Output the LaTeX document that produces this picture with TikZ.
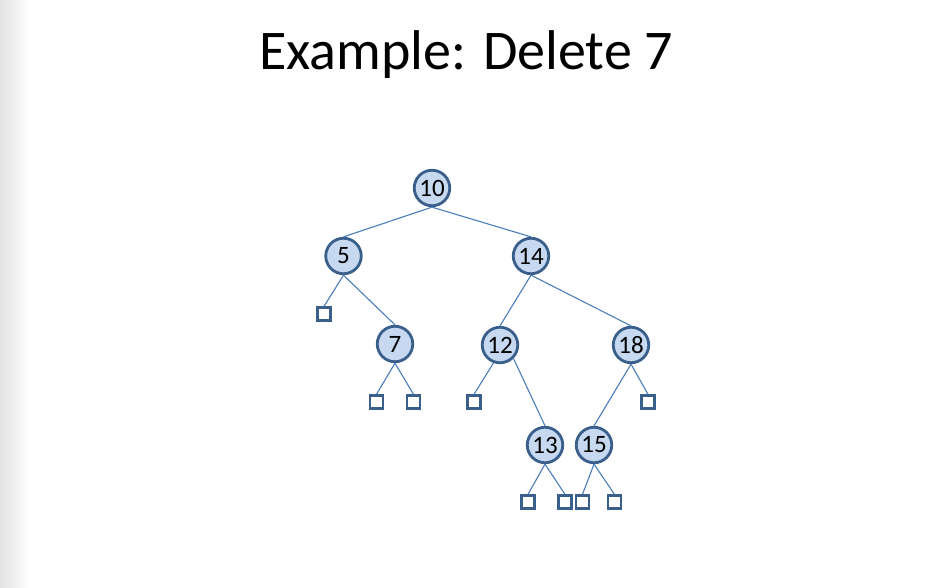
\documentclass[tikz,border=0pt]{standalone}
\usepackage{fontspec}
\setmainfont{Carlito}
\definecolor{nodefill}{HTML}{C6D9F1}
\definecolor{nodeedge}{HTML}{3A5F8B}
\definecolor{edgeline}{HTML}{4A7EBB}
\begin{document}
\begin{tikzpicture}[x=1pt,y=-1pt,
  keynode/.style={circle,draw=nodeedge,fill=nodefill,line width=2.8pt,minimum size=35.5pt,inner sep=0pt,font=\fontsize{25}{25}\selectfont},
  leaf/.style={rectangle,draw=nodeedge,fill=white,line width=2.4pt,minimum size=13pt,inner sep=0pt},
  link/.style={draw=edgeline,line width=1.1pt}]
\useasboundingbox (0,0) rectangle (929,587);
\fill[white] (0,0) rectangle (929,587);
\shade[left color=black!11,right color=white] (0,0) rectangle (30,587);
\node[font=\fontsize{56}{56}\selectfont,anchor=base] (title) at (466,69) {Example: Delete 7};
% keys
\node[keynode] (n10) at (432,188) {10};
\node[keynode] (n5) at (343.5,256) {5};
\node[keynode] (n14) at (531,256) {14};
\node[keynode] (n7) at (395,344) {7};
\node[keynode] (n12) at (500,345) {12};
\node[keynode] (n18) at (631,345) {18};
\node[keynode] (n13) at (545,445) {13};
\node[keynode] (n15) at (594,445) {15};
% leaves
\node[leaf] (l5) at (324,314) {};
\node[leaf] (l7a) at (376.5,402) {};
\node[leaf] (l7b) at (413.5,402) {};
\node[leaf] (l12) at (474,402) {};
\node[leaf] (l18) at (648,402) {};
\node[leaf] (l13a) at (528,502) {};
\node[leaf] (l13b) at (565,502) {};
\node[leaf] (l15a) at (582.5,502) {};
\node[leaf] (l15b) at (614.5,502) {};
% edges
\draw[link] (n10.south) -- (n5.north);
\draw[link] (n10.south) -- (n14.north);
\draw[link] (n5.south) -- (l5.north);
\draw[link] (n5.south) -- (n7.north);
\draw[link] (n7.south) -- (l7a.north);
\draw[link] (n7.south) -- (l7b.north);
\draw[link] (n14.south) -- (n12.north);
\draw[link] (n14.south) -- (n18.north);
\draw[link] (n12.-110) -- (l12.north);
\draw[link] (n12.south east) -- (n13.north);
\draw[link] (n18.south) -- (n15.north);
\draw[link] (n18.south) -- (l18.north);
\draw[link] (n13.south) -- (l13a.north);
\draw[link] (n13.south) -- (l13b.north);
\draw[link] (n15.south) -- (l15a.north);
\draw[link] (n15.south) -- (l15b.north);
\end{tikzpicture}
\end{document}
